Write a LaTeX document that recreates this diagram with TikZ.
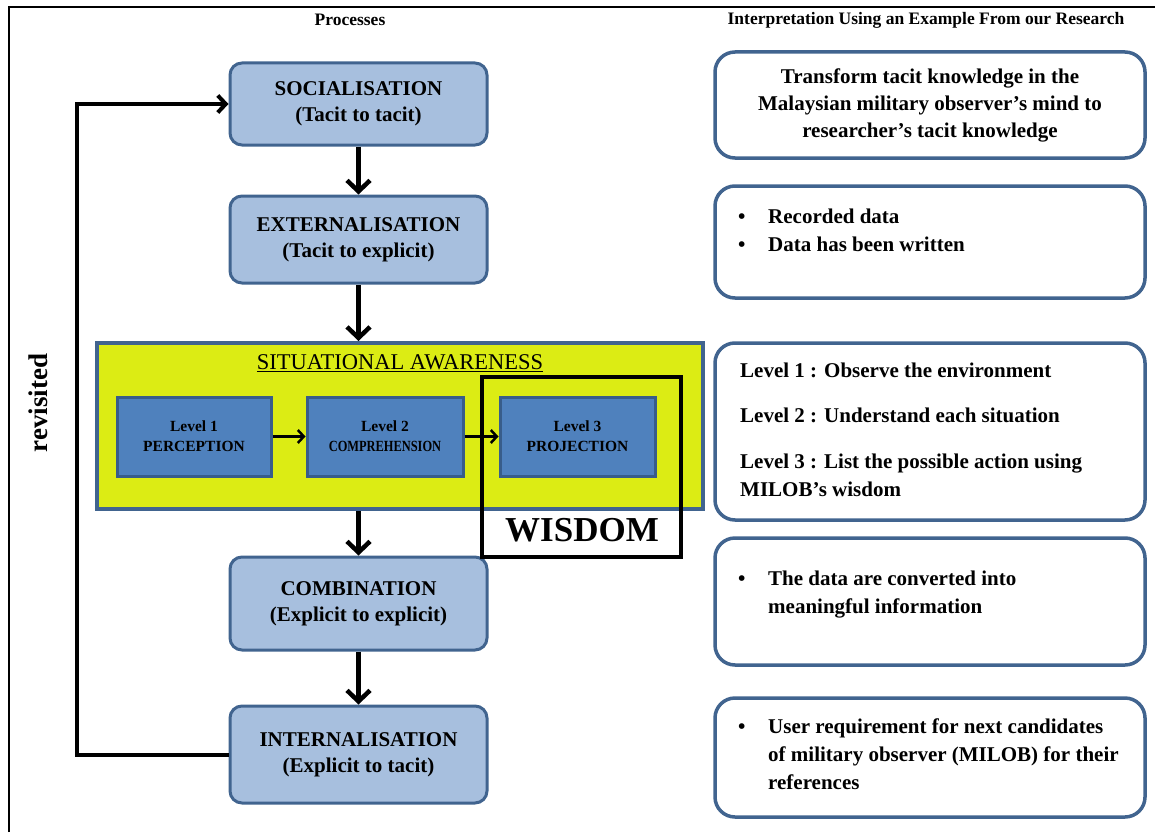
\documentclass[tikz,border=0pt]{standalone}
\usepackage{fontspec}
\setmainfont{Liberation Serif}
\usetikzlibrary{arrows.meta}
\definecolor{procfill}{HTML}{A7BFDE}
\definecolor{procline}{HTML}{41648F}
\definecolor{lvlfill}{HTML}{4F81BD}
\definecolor{lvlline}{HTML}{385D8A}
\definecolor{safill}{HTML}{DCEC14}
\definecolor{boxline}{HTML}{41648F}
\begin{document}
\begin{tikzpicture}[x=1pt,y=-1pt,
 proc/.style={draw=procline, line width=3pt, fill=procfill, rounded corners=12pt, minimum width=257pt, align=center, font=\bfseries\fontsize{21}{26}\selectfont, inner sep=0pt},
 lvl/.style={draw=lvlline, line width=3pt, fill=lvlfill, minimum height=79pt, align=center, font=\bfseries\fontsize{15.5}{20}\selectfont, inner sep=0pt},
 rbox/.style={draw=boxline, line width=3.5pt, rounded corners=20pt, minimum width=430pt, inner sep=0pt},
 rtext/.style={anchor=north west, align=left, inner sep=0pt, font=\bfseries\fontsize{21}{28}\selectfont},
 header/.style={inner sep=0pt, font=\bfseries\fontsize{17.5}{20}\selectfont},
 bigarrow/.style={line width=4.5pt, -{Straight Barb[length=11pt,width=23pt]}},
 fbarrow/.style={line width=4pt, -{Straight Barb[length=8pt,width=17pt]}},
 lvlarrow/.style={line width=2.5pt, -{Straight Barb[length=6pt,width=13pt]}}
]
\fill[white] (0,0) rectangle (1155,832);
\useasboundingbox (0,0) rectangle (1155,832);
% frame
\draw[line width=2pt] (9,832) -- (9,7) -- (1155,7);
% headers
\node[header] (h1) at (350,20) {Processes};
\node[header] (h2) at (926,20) {Interpretation Using an Example From our Research};
% process boxes
\node[proc, minimum height=82pt] (soc) at (358.5,104) {SOCIALISATION\\(Tacit to tacit)};
\node[proc, minimum height=87pt] (ext) at (358.5,239.5) {EXTERNALISATION\\(Tacit to explicit)};
\node[proc, minimum height=93pt] (comb) at (358.5,603.5) {COMBINATION\\(Explicit to explicit)};
\node[proc, minimum height=97pt] (int) at (358.5,754.5) {INTERNALISATION\\(Explicit to tacit)};
% situational awareness
\node[draw=procline, line width=4pt, fill=safill, minimum width=606pt, minimum height=166pt, inner sep=0pt] (sa) at (400,426) {};
\node[inner sep=0pt, font=\fontsize{22.5}{24}\selectfont] (satitle) at (400,363) {\underline{SITUATIONAL AWARENESS}};
\node[lvl, minimum width=154pt] (l1) at (194,436.5) {Level 1\\PERCEPTION};
\node[lvl, minimum width=156pt] (l2) at (385,436.5) {Level 2\\\scalebox{0.8}[1]{COMPREHENSION}};
\node[lvl, minimum width=155pt] (l3) at (577.5,436.5) {Level 3\\PROJECTION};
\draw[lvlarrow] (l1) -- (l2);
\draw[lvlarrow] (l2) -- (l3);
% wisdom frame
\node[draw, line width=4pt, minimum width=199pt, minimum height=180pt, inner sep=0pt] (wframe) at (581.5,467) {};
\node[inner sep=0pt, font=\bfseries\fontsize{35}{38}\selectfont] (wis) at (582,530) {WISDOM};
% arrows
\draw[bigarrow] (soc.south) -- (ext.north);
\draw[bigarrow] (ext.south) -- (ext.south |- sa.north);
\draw[bigarrow] (sa.south -| comb.north) -- (comb.north);
\draw[bigarrow] (comb.south) -- (int.north);
\draw[fbarrow] (int.west) -- ++(-152,0) |- (soc.west);
% revisited
\node[rotate=90, inner sep=0pt, font=\bfseries\fontsize{27}{30}\selectfont] (rev) at (38,403) {revisited};
% right boxes
\node[rbox, minimum height=106pt, align=center, font=\bfseries\fontsize{21}{27}\selectfont] (r1) at (930,105) {Transform tacit knowledge in the\\Malaysian military observer’s mind to\\researcher’s tacit knowledge};
\node[rbox, minimum height=112pt] (r2) at (930,242) {};
\node[rbox, minimum height=177pt] (r3) at (930,431.5) {};
\node[rbox, minimum height=127pt] (r4) at (930,601.5) {};
\node[rbox, minimum height=119pt] (r5) at (930,757.5) {};
\node[rtext] (r2t) at (738,209) {\makebox[30pt][l]{\textbullet}Recorded data\\\makebox[30pt][l]{\textbullet}Data has been written};
\node[rtext] (r3t) at (740,363) {Level 1 : Observe the environment\\[17pt]Level 2 : Understand each situation\\[18pt]Level 3 : List the possible action using\\MILOB’s wisdom};
\node[rtext] (r4t) at (738,571) {\makebox[30pt][l]{\textbullet}The data are converted into\\\hspace*{30pt}meaningful information};
\node[rtext] (r5t) at (738,719) {\makebox[30pt][l]{\textbullet}User requirement for next candidates\\\hspace*{30pt}of military observer (MILOB) for their\\\hspace*{30pt}references};
\end{tikzpicture}
\end{document}
